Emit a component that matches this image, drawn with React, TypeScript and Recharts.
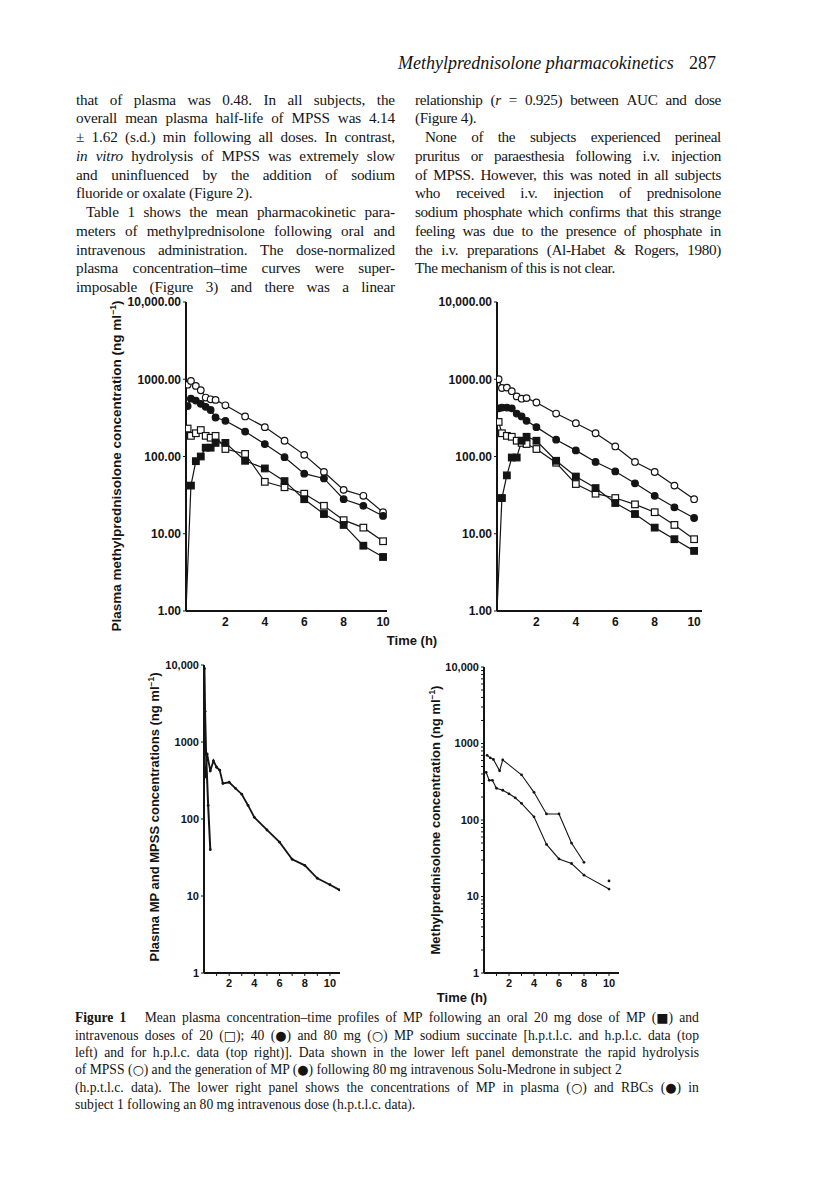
import React from 'react';
import { LineChart, Line, XAxis, YAxis } from 'recharts';

// sampling times (h)
const ivTimes = [0.083, 0.25, 0.5, 0.75, 1, 1.25, 1.5, 2, 3, 4, 5, 6, 7, 8, 9, 10];
const oralTimes = [0, 0.25, 0.5, 0.75, 1, 1.25, 1.5, 2, 3, 4, 5, 6, 7, 8, 9, 10];

// top left panel (h.p.t.l.c. and h.p.l.c.), ng/ml
const tlIv80 = [850, 950, 820, 720, 580, 550, 540, 460, 330, 240, 160, 105, 63, 37, 31, 19];
const tlIv40 = [450, 560, 530, 480, 440, 400, 320, 290, 210, 145, 98, 60, 52, 28, 23, 17];
const tlIv20 = [230, 185, 200, 220, 185, 175, 185, 125, 108, 47, 40, 33, 23, 15, 12, 8];
const tlOral20 = [1, 42, 87, 100, 130, 130, 150, 150, 88, 70, 48, 28, 18, 13, 7, 5];

// top right panel (h.p.l.c.)
const trIv80 = [1000, 770, 780, 700, 600, 560, 570, 500, 360, 270, 200, 135, 85, 63, 42, 28];
const trIv40 = [420, 430, 430, 420, 360, 330, 290, 240, 165, 120, 85, 64, 45, 31, 22, 16];
const trIv20 = [280, 200, 185, 180, 160, 150, 145, 125, 83, 44, 33, 29, 24, 19, 13, 8.5];
const trOral20 = [1, 29, 57, 97, 97, 160, 180, 160, 88, 55, 39, 25, 18, 12, 8.5, 6];

// lower left: MPSS hydrolysis and MP generation, subject 2
const mpssTimes = [0.033, 0.083, 0.167, 0.33, 0.5];
const mpssConc = [9000, 2500, 700, 150, 40];
const mpTimes = [0.083, 0.25, 0.5, 0.75, 1, 1.25, 1.5, 2, 2.5, 3, 3.5, 4, 5, 6, 7, 8, 9, 10, 10.75];
const mpConc = [350, 700, 420, 570, 470, 430, 290, 300, 250, 210, 150, 105, 72, 50, 30, 25, 17, 14, 12];

// lower right: plasma and RBC, subject 1
const plasmaTimes = [0.25, 0.5, 0.75, 1.25, 1.5, 3, 4, 5, 6, 7, 8, 9, 10];
const plasmaConc = [700, 650, 620, 440, 610, 390, 230, 120, 120, 50, 28, null, 16];
const rbcTimes = [0.17, 0.42, 0.67, 1, 1.5, 2, 2.5, 3, 4, 5, 6, 7, 8, 10];
const rbcConc = [420, 330, 330, 260, 245, 220, 195, 165, 110, 48, 31, 27, 19, 12.5];

const decadeTicks = [1, 10, 100, 1000, 10000];
const minorTicks = [1, 2, 3, 4, 5, 6, 7, 8, 9, 10, 20, 30, 40, 50, 60, 70, 80, 90, 100, 200, 300, 400, 500, 600, 700, 800, 900, 1000, 2000, 3000, 4000, 5000, 6000, 7000, 8000, 9000, 10000];
const evenHours = [2, 4, 6, 8, 10];
const allHours = [1, 2, 3, 4, 5, 6, 7, 8, 9, 10];

const ink = '#141414';
const sans = '"Liberation Sans", Arial, Helvetica, sans-serif';
const serif = '"Liberation Serif", "Times New Roman", serif';

const rows = (t: number[], v: (number | null)[]) => t.map((x, i) => ({ t: x, v: v[i] }));

const squareDot = (filled: boolean) => (props: any) => {
  const { cx, cy, index, value } = props;
  if (cx == null || cy == null || value == null || value <= 1) return <g key={'s' + index} />;
  return (
    <rect key={'s' + index} x={cx - 3.3} y={cy - 3.3} width={6.6} height={6.6}
      fill={filled ? ink : '#fff'} stroke={ink} strokeWidth={1.2} />
  );
};
const circleDot = (filled: boolean) => (props: any) => {
  const { cx, cy, index, value } = props;
  if (cx == null || cy == null || value == null) return <g key={'c' + index} />;
  return <circle key={'c' + index} cx={cx} cy={cy} r={3.3} fill={filled ? ink : '#fff'} stroke={ink} strokeWidth={1.2} />;
};
const smallDot = (props: any) => {
  const { cx, cy, index, value } = props;
  if (cx == null || cy == null || value == null) return <g key={'d' + index} />;
  return <circle key={'d' + index} cx={cx} cy={cy} r={1.4} fill={ink} />;
};

const topFmt = (v: number) => (v === 10000 ? '10,000.00' : v.toFixed(2));
const lowFmt = (v: number) => (v === 10000 ? '10,000' : [1, 10, 100, 1000].includes(v) ? String(v) : '');
const hourFmt = (v: number) => (v % 2 === 0 ? String(v) : '');

type Series = { data: { t: number; v: number | null }[]; dot: any; width?: number };

function Panel(p: {
  left: number; top: number; plotW: number; plotH: number; xMax: number;
  yTicks: number[]; yFmt: (v: number) => string; xTicks: number[]; xFmt?: (v: number) => string;
  series: Series[]; fontSize: number; xTickLine: boolean;
}) {
  const yw = 80;
  const tickStyle = { fill: ink, fontSize: p.fontSize, fontWeight: 700, fontFamily: sans };
  return (
    <div style={{ position: 'absolute', left: p.left - yw, top: p.top - 8 }}>
      <LineChart width={yw + p.plotW + 6} height={8 + p.plotH + 24} margin={{ top: 8, right: 6, bottom: 0, left: 0 }}>
        <XAxis type="number" dataKey="t" domain={[0, p.xMax]} ticks={p.xTicks} tickFormatter={p.xFmt}
          allowDataOverflow height={24} interval={0} tick={tickStyle} tickSize={3} tickMargin={3}
          tickLine={p.xTickLine ? { stroke: ink } : false} axisLine={{ stroke: ink, strokeWidth: 2 }} />
        <YAxis type="number" scale="log" domain={[1, 10000]} ticks={p.yTicks} tickFormatter={p.yFmt}
          allowDataOverflow width={yw} interval={0} tick={tickStyle} tickSize={3} tickMargin={2}
          tickLine={{ stroke: ink }} axisLine={{ stroke: ink, strokeWidth: 2 }} />
        {p.series.map((s, i) => (
          <Line key={i} data={s.data} dataKey="v" type="linear" stroke={ink} strokeWidth={s.width ?? 1.2}
            dot={s.dot} activeDot={false} isAnimationActive={false} connectNulls={false} />
        ))}
      </LineChart>
    </div>
  );
}

// ---- text helpers ----
const symbolFont = '"DejaVu Sans", sans-serif';
function Words({ text }: { text: string }) {
  const parts = text.split(/(_[^_]+_|\*[^*]+\*|[■□●○])/).filter((s) => s !== '');
  return (
    <>
      {parts.map((s, i) => {
        if (s.startsWith('_')) return <i key={i}>{s.slice(1, -1)}</i>;
        if (s.startsWith('*')) return <b key={i}>{s.slice(1, -1)}</b>;
        if ('■□●○'.includes(s)) return <span key={i} style={{ fontFamily: symbolFont, fontSize: '0.95em' }}>{s}</span>;
        return <React.Fragment key={i}>{s}</React.Fragment>;
      })}
    </>
  );
}

function TextLine(p: { x: number; y: number; w: number; text: string; justify: boolean; size: number; lh: number; indent?: number; ls?: number }) {
  const base: React.CSSProperties = {
    position: 'absolute', left: p.x + (p.indent ?? 0), top: p.y - p.lh / 2, width: p.w - (p.indent ?? 0),
    height: p.lh, lineHeight: p.lh + 'px', fontFamily: serif, fontSize: p.size, color: ink, whiteSpace: 'nowrap',
    letterSpacing: p.ls ?? 0,
  };
  if (!p.justify) return <div style={base}><Words text={p.text} /></div>;
  const words = p.text.split(' ');
  return (
    <div style={{ ...base, display: 'flex', justifyContent: 'space-between' }}>
      {words.map((w, i) => <span key={i}><Words text={w} /></span>)}
    </div>
  );
}

const leftCol = [
  ['that of plasma was 0.48. In all subjects, the', 1, 0],
  ['overall mean plasma half-life of MPSS was 4.14', 1, 0],
  ['± 1.62 (s.d.) min following all doses. In contrast,', 1, 0],
  ['_in_ _vitro_ hydrolysis of MPSS was extremely slow', 1, 0],
  ['and uninfluenced by the addition of sodium', 1, 0],
  ['fluoride or oxalate (Figure 2).', 0, 0],
  ['Table 1 shows the mean pharmacokinetic para-', 1, 10],
  ['meters of methylprednisolone following oral and', 1, 0],
  ['intravenous administration. The dose-normalized', 1, 0],
  ['plasma concentration–time curves were super-', 1, 0],
  ['imposable (Figure 3) and there was a linear', 1, 0],
] as [string, number, number][];

const rightCol = [
  ['relationship (_r_ = 0.925) between AUC and dose', 1, 0],
  ['(Figure 4).', 0, 0],
  ['None of the subjects experienced perineal', 1, 10],
  ['pruritus or paraesthesia following i.v. injection', 1, 0],
  ['of MPSS. However, this was noted in all subjects', 1, 0],
  ['who received i.v. injection of prednisolone', 1, 0],
  ['sodium phosphate which confirms that this strange', 1, 0],
  ['feeling was due to the presence of phosphate in', 1, 0],
  ['the i.v. preparations (Al-Habet & Rogers, 1980)', 1, 0],
  ['The mechanism of this is not clear.', 0, 0],
] as [string, number, number][];

const captionLines = [
  ['*Figure* *1*   Mean plasma concentration–time profiles of MP following an oral 20 mg dose of MP (■) and', 1],
  ['intravenous doses of 20 (□); 40 (●) and 80 mg (○) MP sodium succinate [h.p.t.l.c. and h.p.l.c. data (top', 1],
  ['left) and for h.p.l.c. data (top right)]. Data shown in the lower left panel demonstrate the rapid hydrolysis', 1],
  ['of MPSS (○) and the generation of MP (●) following 80 mg intravenous Solu-Medrone in subject 2', 0],
  ['(h.p.t.l.c. data). The lower right panel shows the concentrations of MP in plasma (○) and RBCs (●) in', 1],
  ['subject 1 following an 80 mg intravenous dose (h.p.t.l.c. data).', 0],
] as [string, number][];

function AxisTitle(p: { cx: number; cy: number; size: number; text: React.ReactNode }) {
  return (
    <div style={{
      position: 'absolute', left: p.cx - 200, top: p.cy - 9, width: 400, height: 18, textAlign: 'center',
      lineHeight: '18px', fontFamily: sans, fontWeight: 700, fontSize: p.size, color: ink, transform: 'rotate(-90deg)', whiteSpace: 'nowrap',
    }}>{p.text}</div>
  );
}

function Label(p: { cx: number; cy: number; text: string }) {
  return (
    <div style={{
      position: 'absolute', left: p.cx - 60, top: p.cy - 9, width: 120, textAlign: 'center', lineHeight: '18px',
      fontFamily: sans, fontWeight: 700, fontSize: 13, color: ink,
    }}>{p.text}</div>
  );
}

export default function App() {
  const ngml = <>(ng ml<sup style={{ fontSize: '0.65em', lineHeight: 0 }}>−1</sup>)</>;
  return (
    <div style={{ position: 'absolute', left: 0, top: 0, width: 816, height: 1179, background: '#fff', overflow: 'hidden' }}>
      <div style={{ position: 'absolute', left: 398, top: 52, fontFamily: serif, fontStyle: 'italic', fontSize: 18, lineHeight: '22px', color: ink }}>
        Methylprednisolone pharmacokinetics
      </div>
      <div style={{ position: 'absolute', left: 689, top: 52, fontFamily: serif, fontSize: 18, lineHeight: '22px', color: ink }}>
        287
      </div>

      {leftCol.map(([t, j, ind], i) => (
        <TextLine key={'l' + i} x={76} y={100 + i * 18.75} w={319} text={t} justify={!!j} indent={ind} size={15.2} lh={18.75} ls={-0.15} />
      ))}
      {rightCol.map(([t, j, ind], i) => (
        <TextLine key={'r' + i} x={415} y={100 + i * 18.75} w={306} text={t} justify={!!j} indent={ind} size={15.2} lh={18.75} ls={-0.35} />
      ))}

      <Panel left={186} top={302} plotW={201} plotH={309} xMax={10.2} yTicks={decadeTicks} yFmt={topFmt}
        xTicks={evenHours} fontSize={12} xTickLine={false}
        series={[
          { data: rows(ivTimes, tlIv80), dot: circleDot(false) },
          { data: rows(ivTimes, tlIv40), dot: circleDot(true) },
          { data: rows(ivTimes, tlIv20), dot: squareDot(false) },
          { data: rows(oralTimes, tlOral20), dot: squareDot(true) },
        ]} />
      <Panel left={497} top={302} plotW={205} plotH={309} xMax={10.4} yTicks={decadeTicks} yFmt={topFmt}
        xTicks={evenHours} fontSize={12} xTickLine={false}
        series={[
          { data: rows(ivTimes, trIv80), dot: circleDot(false) },
          { data: rows(ivTimes, trIv40), dot: circleDot(true) },
          { data: rows(ivTimes, trIv20), dot: squareDot(false) },
          { data: rows(oralTimes, trOral20), dot: squareDot(true) },
        ]} />
      <AxisTitle cx={117} cy={466} size={13.5} text={<>Plasma methylprednisolone concentration {ngml}</>} />
      <Label cx={412} cy={641} text="Time (h)" />

      <Panel left={204} top={665} plotW={136} plotH={308} xMax={10.8} yTicks={decadeTicks} yFmt={lowFmt}
        xTicks={allHours} xFmt={hourFmt} fontSize={11} xTickLine={true}
        series={[
          { data: rows(mpssTimes, mpssConc), dot: smallDot, width: 2 },
          { data: rows(mpTimes, mpConc), dot: smallDot, width: 1.8 },
        ]} />
      <Panel left={484} top={667} plotW={135} plotH={306} xMax={10.8} yTicks={minorTicks} yFmt={lowFmt}
        xTicks={allHours} xFmt={hourFmt} fontSize={11} xTickLine={true}
        series={[
          { data: rows(plasmaTimes, plasmaConc), dot: smallDot, width: 1.1 },
          { data: rows(rbcTimes, rbcConc), dot: smallDot, width: 1.1 },
        ]} />
      <AxisTitle cx={155} cy={817} size={13} text={<>Plasma MP and MPSS concentrations {ngml}</>} />
      <AxisTitle cx={436} cy={820} size={13} text={<>Methylprednisolone concentration {ngml}</>} />
      <Label cx={462} cy={998} text="Time (h)" />

      {captionLines.map(([t, j], i) => (
        <TextLine key={'c' + i} x={75} y={1018 + i * 17.3} w={624} text={t} justify={!!j} size={13.6} lh={17.3} />
      ))}
    </div>
  );
}
